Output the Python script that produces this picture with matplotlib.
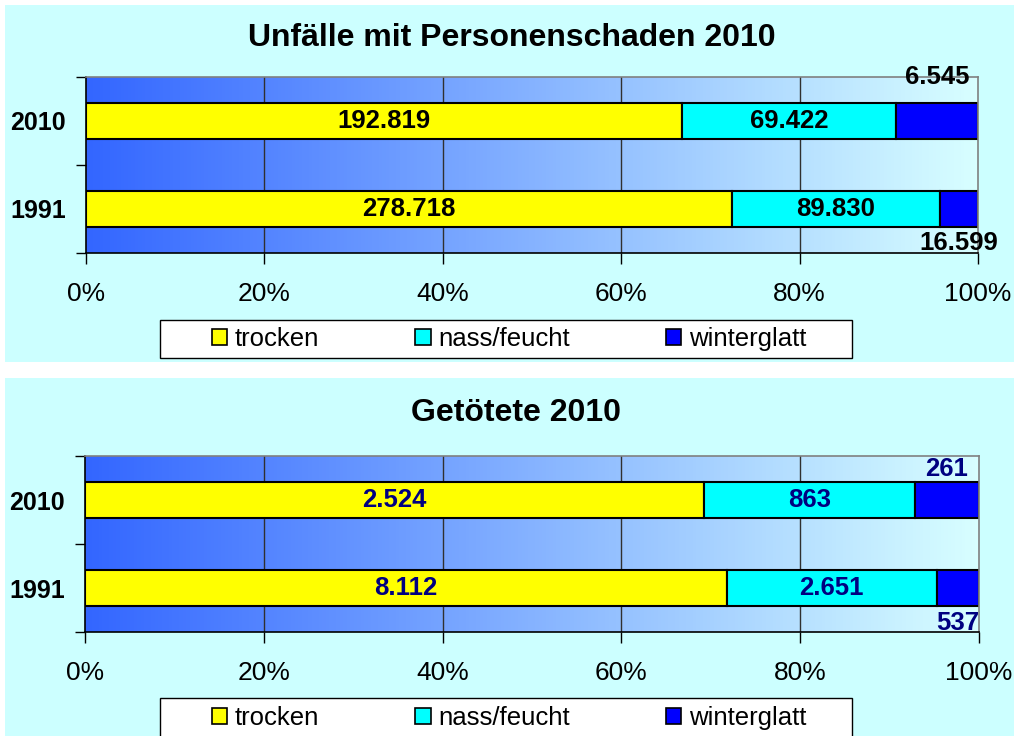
import matplotlib.pyplot as plt
import numpy as np
from matplotlib.patches import Rectangle, Patch
from matplotlib.colors import LinearSegmentedColormap

plt.rcParams['font.family'] = ['Liberation Sans', 'DejaVu Sans']

years = ['1991', '2010']
categories = ['trocken', 'nass/feucht', 'winterglatt']
colors = ['#FFFF00', '#00FFFF', '#0000FF']

# Unfälle mit Personenschaden (1991, 2010)
unfaelle_trocken = [278718, 192819]
unfaelle_nass = [89830, 69422]
unfaelle_winter = [16599, 26545]
unfaelle_labels = [['278.718', '89.830', '16.599'],
                   ['192.819', '69.422', '6.545']]

# Getötete (1991, 2010)
getoetete_trocken = [8112, 2524]
getoetete_nass = [2651, 863]
getoetete_winter = [537, 261]
getoetete_labels = [['8.112', '2.651', '537'],
                    ['2.524', '863', '261']]

W, H = 1014, 736
fig = plt.figure(figsize=(W / 100, H / 100), dpi=100, facecolor='white')

# light cyan panels behind each chart
for y0, y1 in [(5, 362), (378, 737)]:
    fig.add_artist(Rectangle((5 / W, 1 - y1 / H), 1, (y1 - y0) / H,
                             transform=fig.transFigure, facecolor='#CCFFFF',
                             edgecolor='none', zorder=-10))

grad_cmap = LinearSegmentedColormap.from_list('bg', ['#3366FF', '#D8FFFF'])


def draw_chart(ax, trocken, nass, winter, labels, label_color, win_y):
    data = np.array([trocken, nass, winter], dtype=float)
    shares = data / data.sum(axis=0) * 100
    ypos = np.arange(len(years))

    ax.imshow(np.linspace(0, 1, 256).reshape(1, -1), cmap=grad_cmap,
              extent=(0, 100, -0.5, 1.5), aspect='auto', zorder=0)
    for gx in [20, 40, 60, 80]:
        ax.axvline(gx, color='#303030', lw=1, zorder=1)

    left = np.zeros(len(years))
    for i in range(3):
        ax.barh(ypos, shares[i], left=left, height=0.41, color=colors[i],
                edgecolor='black', linewidth=1.5, zorder=3)
        for j in range(len(years)):
            cx = left[j] + shares[i][j] / 2
            cy = ypos[j] if i < 2 else win_y[j]
            ax.text(cx, cy, labels[j][i], ha='center', va='center',
                    fontsize=18.5, fontweight='bold', color=label_color, zorder=5)
        left += shares[i]

    ax.set_xlim(0, 100)
    ax.set_ylim(-0.5, 1.5)
    ax.set_xticks([0, 20, 40, 60, 80, 100])
    ax.set_xticklabels(['0%', '20%', '40%', '60%', '80%', '100%'], fontsize=19)
    ax.tick_params(axis='x', length=8, width=1, pad=13, color='black')
    ax.set_yticks(ypos)
    ax.set_yticklabels(years, fontsize=18, fontweight='bold')
    ax.set_yticks([-0.5, 0.5, 1.5], minor=True)
    ax.tick_params(axis='y', which='major', length=0, pad=14.5)
    ax.tick_params(axis='y', which='minor', length=7, width=1, color='black')
    ax.spines['left'].set_color('black')
    ax.spines['bottom'].set_color('black')
    ax.spines['top'].set_color('#808080')
    ax.spines['right'].set_color('#808080')
    for s in ax.spines.values():
        s.set_linewidth(1.2)
        s.set_zorder(4)


ax1 = fig.add_axes([86 / W, 1 - 253 / H, 892 / W, 176 / H])
draw_chart(ax1, unfaelle_trocken, unfaelle_nass, unfaelle_winter,
           unfaelle_labels, 'black', [-0.39, 1.5])

ax2 = fig.add_axes([85 / W, 1 - 632 / H, 894 / W, 176 / H])
draw_chart(ax2, getoetete_trocken, getoetete_nass, getoetete_winter,
           getoetete_labels, '#000080', [-0.4, 1.35])

fig.text(512 / W, 1 - 38 / H, 'Unfälle mit Personenschaden 2010',
         ha='center', va='center', fontsize=23, fontweight='bold')
fig.text(516 / W, 1 - 413 / H, 'Getötete 2010',
         ha='center', va='center', fontsize=23, fontweight='bold')

handles = [Patch(facecolor=c, edgecolor='black', linewidth=1.2) for c in colors]
for y0, y1 in [(320, 358), (698, 738)]:
    fig.add_artist(Rectangle((160 / W, 1 - y1 / H), 692 / W, (y1 - y0) / H,
                             transform=fig.transFigure, facecolor='white',
                             edgecolor='black', lw=1, zorder=1))
    fig.legend(handles, categories, loc='center',
               bbox_to_anchor=(509 / W, 1 - (y0 + y1) / 2 / H), ncol=3,
               frameon=False, fontsize=18.5, handlelength=0.6,
               handleheight=0.6, handletextpad=0.3, columnspacing=3.74,
               borderpad=0)

fig.savefig('out.png', dpi=100)
